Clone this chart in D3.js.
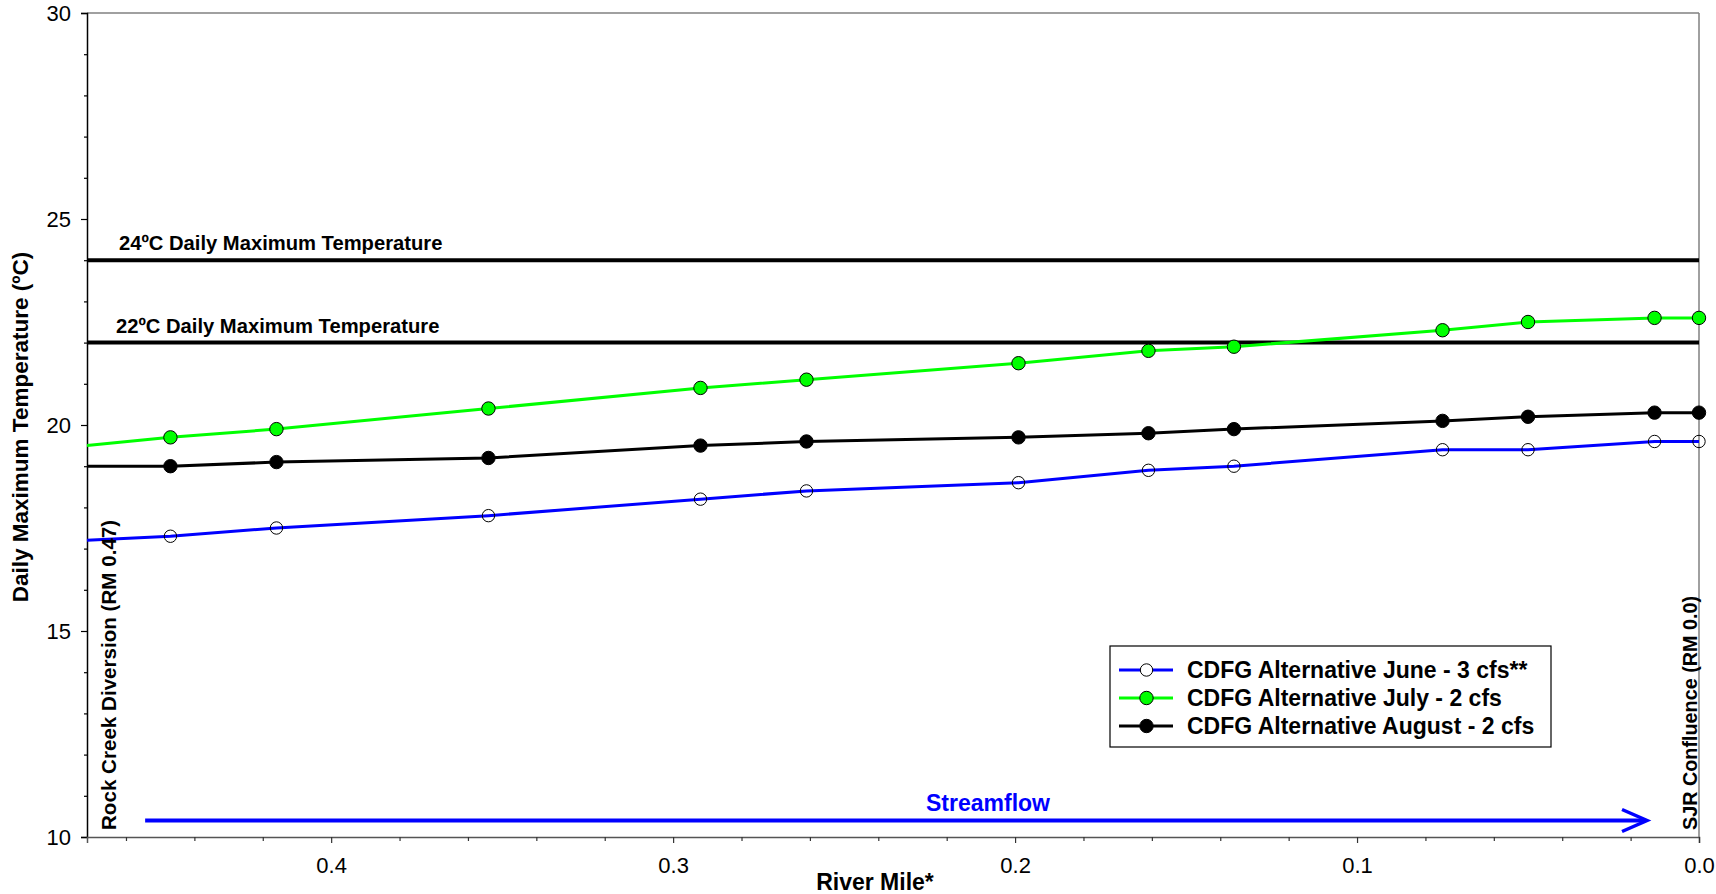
<!DOCTYPE html>
<html>
<head>
<meta charset="utf-8">
<script src="https://cdnjs.cloudflare.com/ajax/libs/d3/7.8.5/d3.min.js"></script>
<style>
  html, body { margin: 0; padding: 0; background: #fff; }
  svg text { font-family: "Liberation Sans", Arial, sans-serif; }
</style>
</head>
<body>
<svg id="chart" width="1716" height="894"></svg>
<script>
// ---- Data ----
const riverMile = [0.4714, 0.447, 0.416, 0.354, 0.292, 0.261, 0.199, 0.161, 0.136, 0.075, 0.050, 0.013, 0.0];
const juneTemp   = [17.2, 17.3, 17.5, 17.8, 18.2, 18.4, 18.6, 18.9, 19.0, 19.4, 19.4, 19.6, 19.6];
const julyTemp   = [19.5, 19.7, 19.9, 20.4, 20.9, 21.1, 21.5, 21.8, 21.9, 22.3, 22.5, 22.6, 22.6];
const augustTemp = [19.0, 19.0, 19.1, 19.2, 19.5, 19.6, 19.7, 19.8, 19.9, 20.1, 20.2, 20.3, 20.3];
const markerShown = [false, true, true, true, true, true, true, true, true, true, true, true, true];
const seriesNames = ["CDFG Alternative June - 3 cfs**", "CDFG Alternative July - 2 cfs", "CDFG Alternative August - 2 cfs"];
const thresholds = [24, 22];
const thresholdLabels = ["24ºC Daily Maximum Temperature", "22ºC Daily Maximum Temperature"];
const xMajorTicks = [0.4, 0.3, 0.2, 0.1, 0.0];
const xTickLabels = ["0.4", "0.3", "0.2", "0.1", "0.0"];
const yMajorTicks = [10, 15, 20, 25, 30];
const yTickLabels = ["10", "15", "20", "25", "30"];
const xDomain = [0.4714, 0.0];
const yDomain = [10, 30];
const streamflowFrom = 0.4544, streamflowTo = 0.0152, streamflowLevel = 10.4;

// ---- Layout ----
const svg = d3.select("#chart");
const L = 87, R = 1699, T = 13, B = 837;
const x = d3.scaleLinear().domain(xDomain).range([L, R]);
const y = d3.scaleLinear().domain(yDomain).range([B, T]);
const font = '"Liberation Sans", Arial, sans-serif';

// frame: top and right in gray
svg.append("line").attr("x1", L).attr("x2", R).attr("y1", T).attr("y2", T).attr("stroke", "#808080").attr("stroke-width", 1.5);
svg.append("line").attr("x1", R).attr("x2", R).attr("y1", T).attr("y2", B).attr("stroke", "#808080").attr("stroke-width", 1.5);

// y axis
const yMinor = d3.range(10, 31, 1).filter(v => v % 5 !== 0);
const yAxis = d3.axisLeft(y).tickValues(yMajorTicks).tickFormat((d, i) => yTickLabels[i]).tickSize(6).tickPadding(10);
const gy = svg.append("g").attr("transform", `translate(${L},0)`).call(yAxis);
gy.select(".domain").attr("stroke", "#000").attr("stroke-width", 1.5);
gy.selectAll(".tick line").attr("stroke", "#000").attr("stroke-width", 1.2);
gy.selectAll("text").attr("font-size", 22).attr("fill", "#000").style("font-family", font);
svg.append("g").attr("transform", `translate(${L},0)`)
  .call(d3.axisLeft(y).tickValues(yMinor).tickSize(3).tickFormat(""))
  .call(g => g.select(".domain").remove())
  .selectAll(".tick line").attr("stroke", "#000").attr("stroke-width", 1.2);

// x axis
const xMinor = d3.range(0, 47, 2).map(v => v / 100).filter(v => Math.round(v * 100) % 10 !== 0);
const xAxis = d3.axisBottom(x).tickValues(xMajorTicks).tickFormat((d, i) => xTickLabels[i]).tickSize(6).tickPadding(14);
const gx = svg.append("g").attr("transform", `translate(0,${B})`).call(xAxis);
gx.select(".domain").attr("stroke", "#555").attr("stroke-width", 1.5);
gx.selectAll(".tick line").attr("stroke", "#333").attr("stroke-width", 1.2);
gx.selectAll("text").attr("font-size", 22).attr("fill", "#000").style("font-family", font);
svg.append("g").attr("transform", `translate(0,${B})`)
  .call(d3.axisBottom(x).tickValues(xMinor).tickSize(4).tickFormat(""))
  .call(g => g.select(".domain").remove())
  .selectAll(".tick line").attr("stroke", "#333").attr("stroke-width", 1.2);

// axis titles
svg.append("text").attr("x", 875).attr("y", 890).attr("text-anchor", "middle")
  .attr("font-size", 23).attr("font-weight", "bold").text("River Mile*");
svg.append("text").attr("transform", `translate(28,${427}) rotate(-90)`).attr("text-anchor", "middle")
  .attr("font-size", 22.5).attr("font-weight", "bold").text("Daily Maximum Temperature (ºC)");

// threshold lines
const labelOffsets = [119, 116];
thresholds.forEach((t, i) => {
  svg.append("line").attr("x1", L).attr("x2", R).attr("y1", y(t)).attr("y2", y(t))
    .attr("stroke", "#000").attr("stroke-width", 4);
  svg.append("text").attr("x", labelOffsets[i]).attr("y", y(t) - 10)
    .attr("font-size", 20.2).attr("font-weight", "bold").text(thresholdLabels[i]);
});

// series
const series = [
  { name: seriesNames[0], values: juneTemp,   color: "#0000ff", fill: "none",    r: 6.2 },
  { name: seriesNames[1], values: julyTemp,   color: "#00ff00", fill: "#00ff00", r: 6.7 },
  { name: seriesNames[2], values: augustTemp, color: "#000000", fill: "#000000", r: 6.7 }
];
const line = d3.line().x(d => x(d[0])).y(d => y(d[1]));
series.forEach(s => {
  const pts = riverMile.map((m, i) => [m, s.values[i]]);
  svg.append("path").attr("d", line(pts)).attr("fill", "none").attr("stroke", s.color).attr("stroke-width", 3);
  svg.append("g").selectAll("circle").data(pts.filter((p, i) => markerShown[i])).join("circle")
    .attr("cx", d => x(d[0])).attr("cy", d => y(d[1])).attr("r", s.r)
    .attr("fill", s.fill).attr("stroke", "#000").attr("stroke-width", 1);
});

// streamflow arrow
const arrowY = y(streamflowLevel);
const arrowX0 = x(streamflowFrom), arrowX1 = x(streamflowTo);
svg.append("line").attr("x1", arrowX0).attr("x2", arrowX1 - 2).attr("y1", arrowY).attr("y2", arrowY)
  .attr("stroke", "#0000ff").attr("stroke-width", 4);
svg.append("path").attr("d", `M${arrowX1 - 25},${arrowY - 11} L${arrowX1},${arrowY} L${arrowX1 - 25},${arrowY + 11}`)
  .attr("fill", "none").attr("stroke", "#0000ff").attr("stroke-width", 3.5);
svg.append("text").attr("x", 988).attr("y", arrowY - 10).attr("text-anchor", "middle")
  .attr("font-size", 23).attr("font-weight", "bold").attr("fill", "#0000ff").text("Streamflow");

// vertical site labels
svg.append("text").attr("transform", `translate(116,830) rotate(-90)`)
  .attr("font-size", 20.6).attr("font-weight", "bold").text("Rock Creek Diversion (RM 0.47)");
svg.append("text").attr("transform", `translate(1697,830) rotate(-90)`)
  .attr("font-size", 19.8).attr("font-weight", "bold").text("SJR Confluence (RM 0.0)");

// legend
const lg = svg.append("g");
lg.append("rect").attr("x", 1110).attr("y", 646).attr("width", 441).attr("height", 101)
  .attr("fill", "#fff").attr("stroke", "#000").attr("stroke-width", 1.2);
const rowY = [670, 698, 726];
series.forEach((s, i) => {
  lg.append("line").attr("x1", 1119).attr("x2", 1173).attr("y1", rowY[i]).attr("y2", rowY[i])
    .attr("stroke", s.color).attr("stroke-width", 3);
  lg.append("circle").attr("cx", 1146.5).attr("cy", rowY[i]).attr("r", s.r)
    .attr("fill", s.fill === "none" ? "#fff" : s.fill).attr("stroke", "#000").attr("stroke-width", 1);
  lg.append("text").attr("x", 1187).attr("y", rowY[i] + 8)
    .attr("font-size", 23).attr("font-weight", "bold").text(s.name);
});
</script>
</body>
</html>
